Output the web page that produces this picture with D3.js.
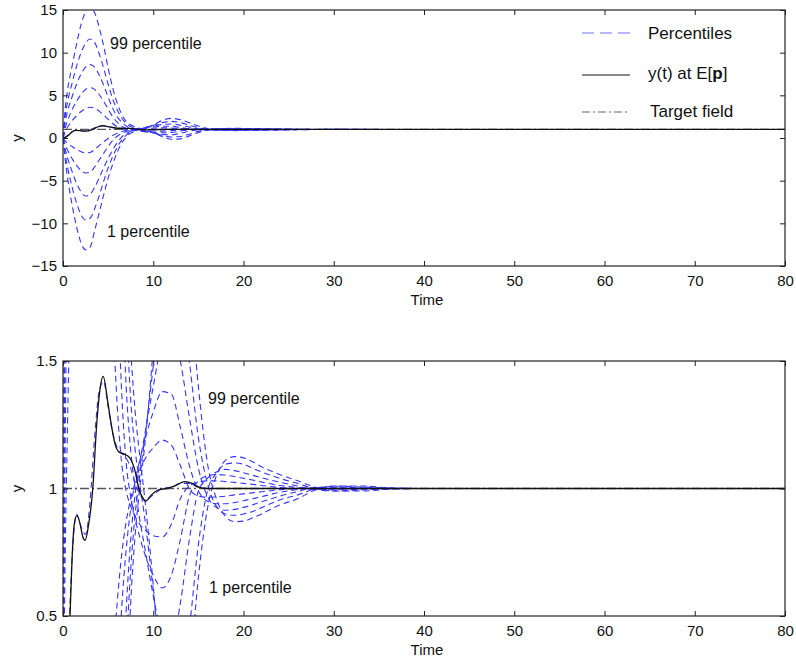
<!DOCTYPE html>
<html>
<head>
<meta charset="utf-8">
<script src="https://cdn.jsdelivr.net/npm/d3@7"></script>
<style>
  html, body { margin: 0; padding: 0; background: #fff; }
  svg { display: block; }
  text { font-family: "Liberation Sans", Arial, Helvetica, sans-serif; fill: #111; }
</style>
</head>
<body>
<svg id="chart" width="796" height="664"></svg>
<script>
// ---------------- data ----------------
const T = [0, 0.25, 0.5, 1, 1.5, 2, 2.5, 3, 3.5, 4, 4.5, 5, 5.5, 6, 6.5, 7, 7.5, 8, 8.5, 9, 10, 11, 12, 13, 14, 15, 16, 17, 18, 19, 20, 21, 22, 24, 26, 28, 30, 33, 36, 40, 50, 80];

const p99 = [0, 3.5, 5.6, 8.4, 11.0, 13.3, 14.8, 15.3, 14.7, 13.0, 10.8, 8.2, 5.9, 4.1, 2.8, 1.95, 1.55, 1.3, 1.13, 0.98, 0.62, 0.15, -0.15, -0.1, 0.25, 0.65, 0.92, 1.05, 1.11, 1.125, 1.12, 1.105, 1.085, 1.055, 1.03, 1.005, 0.99, 0.99, 0.997, 1.0, 1.0, 1.0];
const p95 = [0, 2.6, 4.2, 6.4, 8.4, 10.0, 11.1, 11.6, 11.2, 9.9, 8.2, 6.3, 4.6, 3.3, 2.35, 1.72, 1.35, 1.15, 1.02, 0.9, 0.6, 0.3, 0.12, 0.18, 0.45, 0.78, 0.99, 1.06, 1.095, 1.1, 1.095, 1.08, 1.065, 1.04, 1.02, 0.998, 0.99, 0.994, 0.998, 1.0, 1.0, 1.0];
const p90 = [0, 1.9, 3.1, 4.8, 6.3, 7.5, 8.3, 8.6, 8.3, 7.4, 6.2, 4.8, 3.5, 2.5, 1.85, 1.4, 1.15, 1.0, 0.88, 0.78, 0.58, 0.42, 0.38, 0.55, 0.8, 0.99, 1.04, 1.065, 1.075, 1.07, 1.062, 1.052, 1.042, 1.025, 1.01, 0.995, 0.994, 0.997, 1.0, 1.0, 1.0, 1.0];
const p75 = [0, 1.2, 2.0, 3.3, 4.3, 5.1, 5.7, 5.9, 5.7, 5.1, 4.3, 3.4, 2.5, 1.85, 1.38, 1.1, 0.97, 0.88, 0.81, 0.75, 0.66, 0.61, 0.66, 0.8, 0.97, 1.03, 1.05, 1.055, 1.052, 1.047, 1.04, 1.033, 1.025, 1.012, 1.004, 0.996, 0.997, 0.999, 1.0, 1.0, 1.0, 1.0];
const p60 = [0, 0.75, 1.25, 2.0, 2.6, 3.1, 3.45, 3.6, 3.5, 3.15, 2.7, 2.2, 1.7, 1.33, 1.1, 0.99, 0.93, 0.89, 0.86, 0.84, 0.815, 0.81, 0.86, 0.96, 1.01, 1.025, 1.03, 1.03, 1.027, 1.024, 1.02, 1.016, 1.012, 1.004, 0.999, 0.998, 0.999, 1.0, 1.0, 1.0, 1.0, 1.0];
const p50 = [0, 0.1, 0.3, 0.72, 0.9, 0.85, 0.82, 0.95, 1.2, 1.38, 1.42, 1.32, 1.22, 1.16, 1.14, 1.12, 1.08, 1.02, 0.98, 0.955, 0.975, 1.0, 1.005, 1.02, 1.02, 1.008, 1.0, 1.0, 1.0, 1.0, 1.0, 1.0, 1.0, 1.0, 1.0, 1.0, 1.0, 1.0, 1.0, 1.0, 1.0, 1.0];
const p40 = [0, -0.35, -0.6, -1.0, -1.35, -1.6, -1.75, -1.7, -1.35, -0.9, -0.45, -0.05, 0.3, 0.55, 0.74, 0.87, 0.96, 1.02, 1.07, 1.11, 1.16, 1.19, 1.17, 1.09, 1.0, 0.97, 0.965, 0.967, 0.97, 0.975, 0.979, 0.983, 0.987, 0.995, 1.0, 1.002, 1.001, 1.0, 1.0, 1.0, 1.0, 1.0];
const p25 = [0, -0.8, -1.4, -2.4, -3.2, -3.8, -4.1, -4.0, -3.4, -2.6, -1.8, -1.0, -0.3, 0.2, 0.53, 0.76, 0.92, 1.03, 1.11, 1.18, 1.3, 1.38, 1.37, 1.24, 1.09, 0.99, 0.95, 0.94, 0.94, 0.945, 0.952, 0.96, 0.968, 0.985, 0.996, 1.003, 1.003, 1.001, 1.0, 1.0, 1.0, 1.0];
const p10 = [0, -1.3, -2.3, -3.9, -5.3, -6.3, -6.8, -6.6, -5.8, -4.7, -3.5, -2.4, -1.4, -0.55, 0.1, 0.52, 0.8, 0.98, 1.1, 1.2, 1.4, 1.58, 1.64, 1.5, 1.28, 1.08, 0.97, 0.925, 0.915, 0.918, 0.926, 0.936, 0.948, 0.97, 0.988, 1.004, 1.006, 1.003, 1.0, 1.0, 1.0, 1.0];
const p5  = [0, -1.9, -3.4, -5.7, -7.6, -9.0, -9.6, -9.4, -8.3, -6.8, -5.1, -3.5, -2.2, -1.1, -0.25, 0.33, 0.68, 0.9, 1.05, 1.18, 1.48, 1.8, 1.95, 1.8, 1.5, 1.2, 1.02, 0.93, 0.9, 0.895, 0.9, 0.91, 0.925, 0.955, 0.975, 1.0, 1.009, 1.006, 1.002, 1.0, 1.0, 1.0];
const p1  = [0, -2.6, -4.6, -7.8, -10.4, -12.3, -13.1, -12.8, -10.9, -8.8, -6.7, -4.7, -3.1, -1.7, -0.6, 0.12, 0.55, 0.82, 1.0, 1.15, 1.55, 2.05, 2.3, 2.15, 1.8, 1.4, 1.1, 0.96, 0.89, 0.87, 0.872, 0.885, 0.9, 0.935, 0.96, 0.995, 1.01, 1.01, 1.003, 1.0, 1.0, 1.0];

const percentileSeries = [p1, p5, p10, p25, p40, p50, p60, p75, p90, p95, p99];

// y(t) at E[p]
const tMean = [0, 0.3, 0.6, 0.78, 1.0, 1.25, 1.55, 1.9, 2.2, 2.45, 2.8, 3.3, 3.75, 4.1, 4.45, 5.0, 5.4, 5.8, 6.3, 6.8, 7.4, 8.0, 8.4, 8.9, 9.15, 9.8, 10.6, 11.5, 12.4, 13.5, 14.3, 15, 16, 20, 30, 40, 60, 80];
const yMean = [0, 0.1, 0.32, 0.5, 0.72, 0.86, 0.895, 0.86, 0.81, 0.797, 0.85, 1.0, 1.26, 1.39, 1.44, 1.33, 1.24, 1.17, 1.14, 1.135, 1.12, 1.066, 1.0, 0.96, 0.95, 0.975, 0.995, 1.0, 1.01, 1.027, 1.02, 1.005, 1.0, 1.0, 1.0, 1.0, 1.0, 1.0];

const targetValue = 1;
const xTicks = [0, 10, 20, 30, 40, 50, 60, 70, 80];
const yTicksTop = [-15, -10, -5, 0, 5, 10, 15];
const yTicksBottom = [0.5, 1, 1.5];
const legendLabels = ["Percentiles", "y(t) at E[", "p", "]", "Target field"];

// ---------------- drawing ----------------
const svg = d3.select("#chart");
svg.append("rect").attr("width", 796).attr("height", 664).attr("fill", "#fff");

const BLUE = "#3535ff";
const L = 63, R = 785;

function panel(opts) {
  const { top, bottom, domain, yTicks, yFmt, id } = opts;
  const x = d3.scaleLinear().domain([0, 80]).range([L, R]);
  const y = d3.scaleLinear().domain(domain).range([bottom, top]);
  const g = svg.append("g");

  svg.append("clipPath").attr("id", id)
    .append("rect").attr("x", L).attr("y", top).attr("width", R - L).attr("height", bottom - top);

  const plot = g.append("g").attr("clip-path", `url(#${id})`);

  const line = d3.line().x(d => x(d[0])).y(d => y(d[1])).curve(d3.curveMonotoneX);

  // target field
  plot.append("path")
    .datum([[0, targetValue], [80, targetValue]])
    .attr("d", line)
    .attr("fill", "none").attr("stroke", "#555").attr("stroke-width", 1.3)
    .attr("stroke-dasharray", "9,3,2,3");

  // percentiles
  percentileSeries.forEach(s => {
    plot.append("path")
      .datum(T.map((t, i) => [t, s[i]]))
      .attr("d", line)
      .attr("fill", "none").attr("stroke", BLUE).attr("stroke-width", 1.1)
      .attr("stroke-dasharray", "6,4");
  });

  // mean
  plot.append("path")
    .datum(tMean.map((t, i) => [t, yMean[i]]))
    .attr("d", line)
    .attr("fill", "none").attr("stroke", "#111").attr("stroke-width", 1.3);

  // axes
  const axB = d3.axisBottom(x).tickValues(xTicks).tickSizeInner(-5).tickSizeOuter(0).tickPadding(9).tickFormat(d3.format("d"));
  const axT = d3.axisTop(x).tickValues(xTicks).tickSizeInner(-5).tickSizeOuter(0).tickFormat("");
  const axLft = d3.axisLeft(y).tickValues(yTicks).tickSizeInner(-5).tickSizeOuter(0).tickPadding(6).tickFormat(yFmt);
  const axRgt = d3.axisRight(y).tickValues(yTicks).tickSizeInner(-5).tickSizeOuter(0).tickFormat("");

  const styleAxis = sel => {
    sel.select(".domain").remove();
    sel.selectAll("line").attr("stroke", "#222");
    sel.selectAll("text").style("font-size", "15px").attr("fill", "#111")
      .style("font-family", '"Liberation Sans", Arial, sans-serif');
  };
  g.append("g").attr("transform", `translate(0,${bottom})`).call(axB).call(styleAxis);
  g.append("g").attr("transform", `translate(0,${top})`).call(axT).call(styleAxis);
  g.append("g").attr("transform", `translate(${L},0)`).call(axLft).call(styleAxis);
  g.append("g").attr("transform", `translate(${R},0)`).call(axRgt).call(styleAxis);

  // frame
  g.append("rect").attr("x", L).attr("y", top).attr("width", R - L).attr("height", bottom - top)
    .attr("fill", "none").attr("stroke", "#222").attr("stroke-width", 1.2);

  // axis labels
  g.append("text").attr("x", (L + R) / 2 + 3).attr("y", bottom + 39)
    .attr("text-anchor", "middle").style("font-size", "15px").text("Time");
  g.append("text").attr("transform", `translate(22,${(top + bottom) / 2}) rotate(-90)`)
    .attr("text-anchor", "middle").style("font-size", "15px").text("y");

  return { x, y, g };
}

panel({ top: 10, bottom: 266, domain: [-15, 15], yTicks: yTicksTop, yFmt: d3.format("d"), id: "clipTop" });
panel({ top: 361, bottom: 616, domain: [0.5, 1.5], yTicks: yTicksBottom, yFmt: d => String(d), id: "clipBot" });

// annotations
const ann = (x, y, s) => svg.append("text").attr("x", x).attr("y", y).attr("dy", "0.35em")
  .style("font-size", "16px").text(s);
ann(110, 43, "99 percentile");
ann(107, 231, "1 percentile");
ann(208, 398, "99 percentile");
ann(209, 587, "1 percentile");

// legend
const lg = svg.append("g");
const lx0 = 582, lx1 = 630, tx = 648;
lg.append("line").attr("x1", lx0).attr("x2", lx1).attr("y1", 33).attr("y2", 33)
  .attr("stroke", BLUE).attr("stroke-width", 1.1).attr("stroke-dasharray", "12,6").attr("opacity", 0.7);
lg.append("text").attr("x", tx).attr("y", 33).attr("dy", "0.35em").style("font-size", "17px").text(legendLabels[0]);
lg.append("line").attr("x1", lx0).attr("x2", lx1).attr("y1", 75).attr("y2", 75)
  .attr("stroke", "#111").attr("stroke-width", 1.1);
const t2 = lg.append("text").attr("x", tx).attr("y", 73).attr("dy", "0.35em").style("font-size", "17px");
t2.append("tspan").text(legendLabels[1]);
t2.append("tspan").style("font-weight", "bold").text(legendLabels[2]);
t2.append("tspan").text(legendLabels[3]);
lg.append("line").attr("x1", lx0).attr("x2", lx1).attr("y1", 112).attr("y2", 112)
  .attr("stroke", "#666").attr("stroke-width", 1.1).attr("stroke-dasharray", "8,3,2,3");
lg.append("text").attr("x", tx + 2).attr("y", 111).attr("dy", "0.35em").style("font-size", "17px").text(legendLabels[4]);
</script>
</body>
</html>
